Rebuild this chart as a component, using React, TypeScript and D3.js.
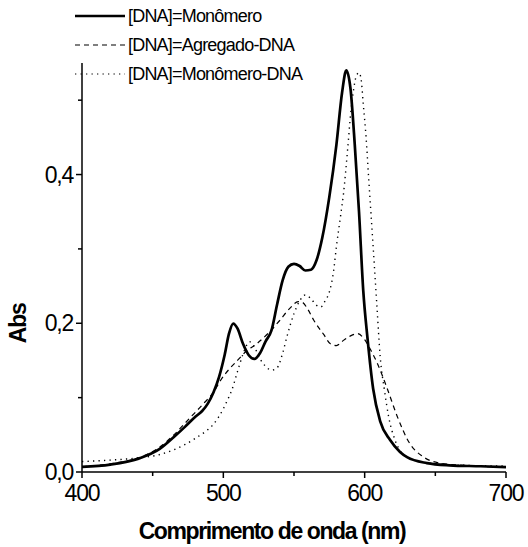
import React from "react";
import * as d3 from "d3";

const monomeroWl = [400, 420, 440, 455, 465, 473, 480, 485, 489, 493, 497, 501, 504, 507, 510, 514, 518, 522, 526, 530, 534, 538, 542, 546, 550, 554, 558, 562, 566, 570, 575, 580, 584, 587, 590, 593, 596, 599, 602, 606, 611, 618, 625, 630, 644, 660, 682, 700];
const monomeroAbs = [0.007, 0.010, 0.018, 0.031, 0.047, 0.061, 0.074, 0.082, 0.092, 0.107, 0.128, 0.158, 0.186, 0.1996, 0.193, 0.172, 0.157, 0.152, 0.160, 0.176, 0.190, 0.225, 0.258, 0.276, 0.280, 0.277, 0.271, 0.272, 0.285, 0.315, 0.370, 0.440, 0.510, 0.540, 0.515, 0.440, 0.350, 0.244, 0.180, 0.112, 0.068, 0.043, 0.027, 0.020, 0.012, 0.009, 0.0077, 0.0065];

const agregadoWl = [400, 420, 440, 454, 465, 477, 485, 494, 498, 504, 510, 516, 524, 532, 540, 547, 553, 556, 560, 564, 571, 576, 580, 585, 590, 595, 600, 604, 609, 616, 623, 632, 641, 653, 670, 700];
const agregadoAbs = [0.007, 0.011, 0.019, 0.032, 0.050, 0.074, 0.090, 0.110, 0.123, 0.138, 0.150, 0.162, 0.173, 0.187, 0.204, 0.220, 0.229, 0.228, 0.218, 0.204, 0.185, 0.172, 0.170, 0.177, 0.183, 0.186, 0.178, 0.165, 0.146, 0.112, 0.075, 0.038, 0.021, 0.012, 0.009, 0.0065];

const monoDnaWl = [400, 420, 440, 454, 465, 473, 480, 487, 492, 496, 500, 503, 506, 510, 514, 517, 519, 522, 526, 530, 534, 538, 542, 545, 550, 554, 558, 562, 566, 569, 572, 575, 578, 580, 583, 585, 588, 590, 592, 594, 596, 597.5, 599, 601, 603, 606, 608.6, 611, 614, 617, 621.5, 630, 645, 670, 700];
const monoDnaAbs = [0.014, 0.016, 0.019, 0.023, 0.030, 0.037, 0.045, 0.054, 0.062, 0.072, 0.085, 0.097, 0.110, 0.135, 0.159, 0.172, 0.175, 0.168, 0.152, 0.142, 0.137, 0.140, 0.160, 0.182, 0.213, 0.230, 0.238, 0.233, 0.224, 0.222, 0.230, 0.242, 0.270, 0.303, 0.345, 0.374, 0.435, 0.480, 0.512, 0.532, 0.537, 0.528, 0.495, 0.450, 0.390, 0.303, 0.225, 0.155, 0.110, 0.074, 0.043, 0.020, 0.012, 0.009, 0.008];

const seriesNames = ["[DNA]=Monômero", "[DNA]=Agregado-DNA", "[DNA]=Monômero-DNA"];
const xMajorTicks = [400, 500, 600, 700];
const xMinorTicks = [450, 550, 650];
const yMajorTicks = [0, 0.2, 0.4];
const yMinorTicks = [0.1, 0.3, 0.5];

const W = 528;
const H = 547;

export default function App() {
  const x = d3.scaleLinear().domain([400, 700]).range([82, 506]);
  const y = d3.scaleLinear().domain([0, 0.55]).range([472, 63]);
  const fmtY = (v: number) => d3.format(".1f")(v).replace(".", ",");

  const mk = (wl: number[], ab: number[]) =>
    d3
      .line<number>()
      .x((_, i) => x(wl[i]))
      .y((d) => y(d))
      .curve(d3.curveMonotoneX)(ab) || "";

  const styles = [
    { width: 2.7, dash: "" },
    { width: 1.2, dash: "5,4" },
    { width: 1.4, dash: "1.3,4.2" },
  ];
  const paths = [
    mk(monomeroWl, monomeroAbs),
    mk(agregadoWl, agregadoAbs),
    mk(monoDnaWl, monoDnaAbs),
  ];
  const legendY = [16, 45, 74];
  const font = "'Liberation Sans', Arial, sans-serif";

  return (
    <svg width={W} height={H} style={{ position: "absolute", left: 0, top: 0, background: "#fff" }} fontFamily={font}>
      {paths.map((p, i) => (
        <path key={i} d={p} fill="none" stroke="#000" strokeWidth={styles[i].width} strokeDasharray={styles[i].dash || undefined} strokeLinejoin="round" />
      ))}
      {/* axes */}
      <line x1={x(400)} x2={x(700)} y1={y(0)} y2={y(0)} stroke="#000" strokeWidth={1.5} />
      <line x1={x(400)} x2={x(400)} y1={y(0)} y2={y(0.55)} stroke="#000" strokeWidth={1.5} />
      {xMajorTicks.map((t) => (
        <g key={"xm" + t}>
          <line x1={x(t)} x2={x(t)} y1={y(0)} y2={y(0) + 6} stroke="#000" strokeWidth={1.5} />
          <text x={x(t)} y={y(0) + 29} textAnchor="middle" fontSize={23} letterSpacing={-1.2}>{t}</text>
        </g>
      ))}
      {xMinorTicks.map((t) => (
        <line key={"xn" + t} x1={x(t)} x2={x(t)} y1={y(0)} y2={y(0) + 4} stroke="#000" strokeWidth={1.5} />
      ))}
      {yMajorTicks.map((t) => (
        <g key={"ym" + t}>
          <line x1={x(400)} x2={x(400) - 6} y1={y(t)} y2={y(t)} stroke="#000" strokeWidth={1.5} />
          <text x={x(400) - 9} y={y(t) + 8} textAnchor="end" fontSize={23} letterSpacing={-1.2}>{fmtY(t)}</text>
        </g>
      ))}
      {yMinorTicks.map((t) => (
        <line key={"yn" + t} x1={x(400)} x2={x(400) - 4} y1={y(t)} y2={y(t)} stroke="#000" strokeWidth={1.5} />
      ))}
      <text x={272} y={539} textAnchor="middle" fontSize={23} fontWeight="bold" letterSpacing={-1.4}>Comprimento de onda (nm)</text>
      <text transform={`translate(26,${y(0.2)}) rotate(-90)`} textAnchor="middle" fontSize={23} fontWeight="bold" letterSpacing={-1.2}>Abs</text>
      {/* legend */}
      {seriesNames.map((n, i) => (
        <g key={n}>
          <line x1={75} x2={125} y1={legendY[i]} y2={legendY[i]} stroke="#000" strokeWidth={styles[i].width * 0.85} strokeDasharray={styles[i].dash || undefined} />
          <text x={128} y={legendY[i] + 6} fontSize={18} letterSpacing={-0.8}>{n}</text>
        </g>
      ))}
    </svg>
  );
}
